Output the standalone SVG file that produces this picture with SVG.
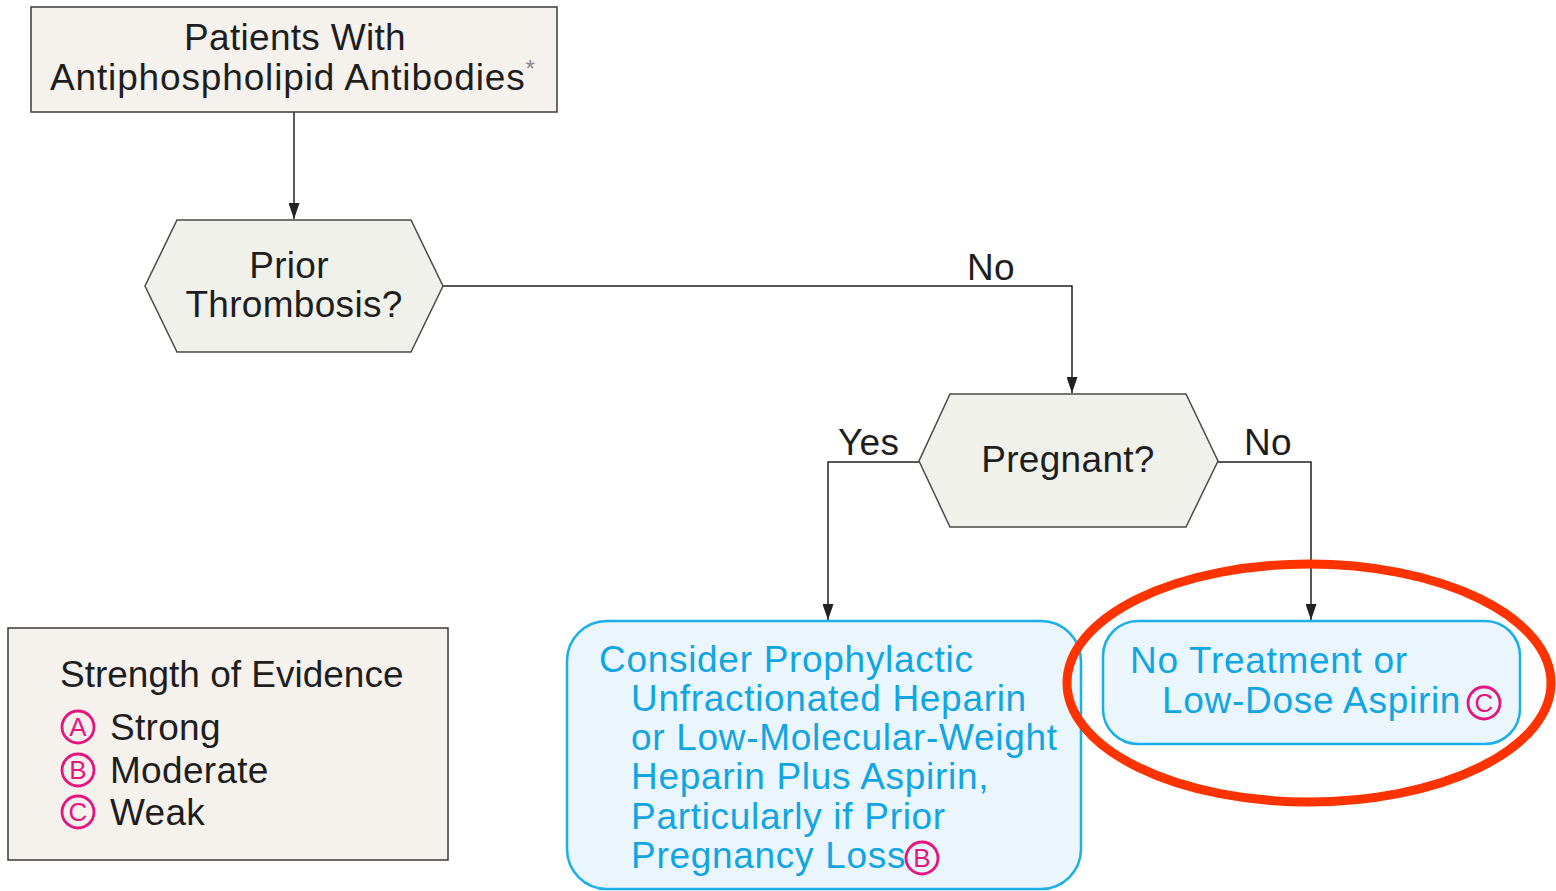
<svg xmlns="http://www.w3.org/2000/svg" width="1556" height="891" viewBox="0 0 1556 891">
<style>
.t{font-family:"Liberation Sans",Arial,sans-serif;font-size:37px;fill:#1e1e1e;letter-spacing:0.3px}
.b{font-family:"Liberation Sans",Arial,sans-serif;font-size:37px;fill:#12a5e3;letter-spacing:0.7px}
.box{fill:#f5f2ee;stroke:#3a3a3a;stroke-width:1.5}
.hex{fill:#f1f1ec;stroke:#4a4a4a;stroke-width:1.5}
.rec{fill:#eaf5fc;stroke:#1aafe8;stroke-width:2.5}
.ln{fill:none;stroke:#222;stroke-width:1.5}
.cc{fill:none;stroke:#e5157f;stroke-width:2.8}
.cl{font-family:"Liberation Sans",Arial,sans-serif;font-size:26px;fill:#e5157f;text-anchor:middle}
</style>
<defs>
<marker id="ar" viewBox="0 0 16 11" refX="16" refY="5.5" markerWidth="16" markerHeight="11" markerUnits="userSpaceOnUse" orient="auto">
<path d="M0,0 L16,5.5 L0,11 z" fill="#222"/>
</marker>
</defs>
<rect width="1556" height="891" fill="#ffffff"/>
<g id="connectors">
<path class="ln" d="M294,112 V219" marker-end="url(#ar)"/>
<path class="ln" d="M443,286 H1072 V393" marker-end="url(#ar)"/>
<path class="ln" d="M919,462 H828 V620" marker-end="url(#ar)"/>
<path class="ln" d="M1218,462 H1311 V620" marker-end="url(#ar)"/>
<text class="t" x="967" y="280">No</text>
<text class="t" x="838" y="455">Yes</text>
<text class="t" x="1244" y="455">No</text>
</g>
<g id="start">
<rect class="box" x="31" y="7" width="526" height="105"/>
<text class="t" x="295" y="50" text-anchor="middle">Patients With</text>
<text class="t" x="50" y="90" style="letter-spacing:0.85px">Antiphospholipid Antibodies<tspan font-size="24" dy="-13" fill="#888">*</tspan></text>
</g>
<g id="prior">
<polygon class="hex" points="177,220 411,220 443,286 411,352 177,352 145,286"/>
<text class="t" x="289" y="278" text-anchor="middle">Prior</text>
<text class="t" x="294" y="317" text-anchor="middle">Thrombosis?</text>
</g>
<g id="pregnant">
<polygon class="hex" points="950,394 1186,394 1218,461 1186,527 950,527 919,461"/>
<text class="t" x="1068" y="472" text-anchor="middle">Pregnant?</text>
</g>
<g id="yesbox">
<rect class="rec" x="567" y="621" width="514" height="268" rx="40"/>
<text class="b" x="599" y="672">Consider Prophylactic</text>
<text class="b" x="631" y="711">Unfractionated Heparin</text>
<text class="b" x="631" y="750">or Low-Molecular-Weight</text>
<text class="b" x="631" y="789">Heparin Plus Aspirin,</text>
<text class="b" x="631" y="829">Particularly if Prior</text>
<text class="b" x="631" y="868">Pregnancy Loss</text>
<circle class="cc" cx="922" cy="858" r="16"/>
<text class="cl" x="922" y="867">B</text>
</g>
<g id="nobox">
<rect class="rec" x="1103" y="621" width="417" height="123" rx="35"/>
<text class="b" x="1130" y="673">No Treatment or</text>
<text class="b" x="1162" y="713">Low-Dose Aspirin</text>
<circle class="cc" cx="1484" cy="703" r="16"/>
<text class="cl" x="1484" y="712">C</text>
</g>
<g id="highlight">
<ellipse cx="1309" cy="683" rx="242" ry="119" fill="none" stroke="#ff3300" stroke-width="9"/>
</g>
<g id="legend">
<rect class="box" x="8" y="628" width="440" height="232"/>
<text class="t" x="60" y="687" style="letter-spacing:0">Strength of Evidence</text>
<circle class="cc" cx="78" cy="727" r="16"/>
<text class="cl" x="78" y="736">A</text>
<text class="t" x="110" y="740">Strong</text>
<circle class="cc" cx="78" cy="770" r="16"/>
<text class="cl" x="78" y="779">B</text>
<text class="t" x="110" y="783">Moderate</text>
<circle class="cc" cx="78" cy="812" r="16"/>
<text class="cl" x="78" y="821">C</text>
<text class="t" x="110" y="825">Weak</text>
</g>
</svg>
